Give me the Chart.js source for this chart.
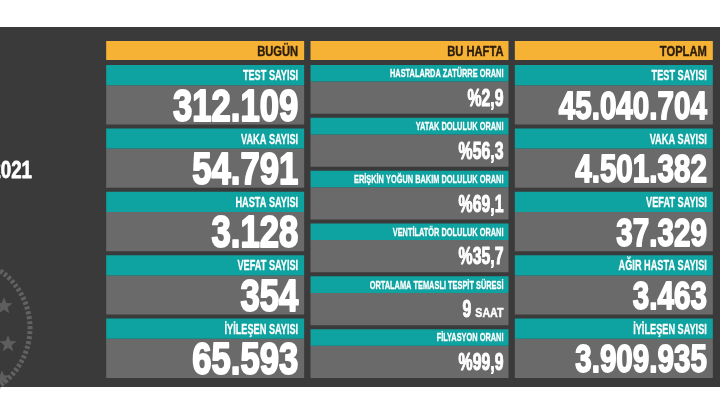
<!DOCTYPE html>
<html>
<head>
<meta charset="utf-8">
<script src="https://cdn.jsdelivr.net/npm/chart.js@4.4.1/dist/chart.umd.min.js"></script>
<style>
  html, body { margin: 0; padding: 0; background: #fff; }
  canvas { display: block; }
</style>
</head>
<body>
<canvas id="board" width="720" height="406"></canvas>
<script>
const columns = ["BUGÜN", "BU HAFTA", "TOPLAM"];

const todayLabels = ["TEST SAYISI", "VAKA SAYISI", "HASTA SAYISI", "VEFAT SAYISI", "İYİLEŞEN SAYISI"];
const todayValues = [312109, 54791, 3128, 354, 65593];

const weekLabels = [
  "HASTALARDA ZATÜRRE ORANI",
  "YATAK DOLULUK ORANI",
  "ERİŞKİN YOĞUN BAKIM DOLULUK ORANI",
  "VENTİLATÖR DOLULUK ORANI",
  "ORTALAMA TEMASLI TESPİT SÜRESİ",
  "FİLYASYON ORANI",
];
const weekValues = [2.9, 56.3, 69.1, 35.7, 9, 99.9];
const weekUnits = ["%", "%", "%", "%", "SAAT", "%"];

const totalLabels = ["TEST SAYISI", "VAKA SAYISI", "VEFAT SAYISI", "AĞIR HASTA SAYISI", "İYİLEŞEN SAYISI"];
const totalValues = [45040704, 4501382, 37329, 3463, 3909935];

const dateLabel = "2021";

// colours
const YELLOW = "#f6b234";
const TEAL = "#0ea3a0";
const GRAY = "#6a6a6a";
const PANEL = "#3a3a3a";
const FONT = '"Liberation Sans", Arial, sans-serif';

// table layout on a 0..1 (top..bottom) value axis
const HEAD_END = 19 / 337;
const BODY_START = 24 / 337;
const GAP = 4 / 337;
const STRIP = 0.34;

const rowLabels = [todayLabels, weekLabels, totalLabels];

function thousands(n) {
  return String(n).replace(/\B(?=(\d{3})+(?!\d))/g, ".");
}
function weekText(v, unit) {
  if (unit === "%") return "%" + v.toFixed(1).replace(".", ",");
  return String(v);
}
const rowValues = [
  todayValues.map(thousands),
  weekValues.map((v, i) => weekText(v, weekUnits[i])),
  totalValues.map(thousands),
];

function cellRange(ci, r) {
  const n = rowLabels[ci].length;
  if (r >= n) return null;
  const pitch = (1 - BODY_START + GAP) / n;
  const s = BODY_START + r * pitch;
  return [s, s + pitch - GAP];
}

const barStyle = { grouped: false, barPercentage: 0.969, categoryPercentage: 1, borderWidth: 0, borderSkipped: false };

const datasets = [
  Object.assign({ label: "header", kind: "header", data: columns.map(() => [0, HEAD_END]), backgroundColor: YELLOW }, barStyle),
];
const maxRows = Math.max(...rowLabels.map((l) => l.length));
for (let r = 0; r < maxRows; r++) {
  datasets.push(Object.assign({
    label: "strip" + r, kind: "strip", row: r,
    data: columns.map((c, ci) => {
      const rg = cellRange(ci, r);
      return rg ? [rg[0], rg[0] + (rg[1] - rg[0]) * STRIP] : null;
    }),
    backgroundColor: TEAL,
  }, barStyle));
  datasets.push(Object.assign({
    label: "body" + r, kind: "body", row: r,
    data: columns.map((c, ci) => {
      const rg = cellRange(ci, r);
      return rg ? [rg[0] + (rg[1] - rg[0]) * STRIP, rg[1]] : null;
    }),
    backgroundColor: GRAY,
  }, barStyle));
}

// text styles per column (sx = extra horizontal squeeze on top of the narrow fix)
const labelSize = [14, 11, 14];
const labelSx = [0.8, 0.82, 0.8];
const valueSize = [44, 23, 39];
const valueSx = [0.96, 0.84, 0.925];

// squeeze the regular bold face to a narrow one
let fontFix = 1;
function measureFix(ctx) {
  ctx.save();
  ctx.font = "bold 100px " + FONT;
  const w = ctx.measureText("0").width;
  ctx.restore();
  fontFix = Math.min(1, 45.6 / w);
}

function drawText(ctx, str, right, baseline, size, color, sx, heavy) {
  ctx.save();
  ctx.font = "bold " + size + "px " + FONT;
  ctx.fillStyle = color;
  ctx.strokeStyle = color;
  ctx.lineJoin = "round";
  ctx.textAlign = "right";
  ctx.textBaseline = "alphabetic";
  ctx.translate(right, baseline);
  ctx.scale(sx * fontFix, 1);
  ctx.fillText(str, 0, 0);
  if (heavy) {
    ctx.lineWidth = heavy;
    ctx.strokeText(str, 0, 0);
  }
  const w = ctx.measureText(str).width * sx * fontFix;
  ctx.restore();
  return w;
}

function star(ctx, cx, cy, r) {
  ctx.beginPath();
  for (let i = 0; i < 10; i++) {
    const a = -Math.PI / 2 + i * Math.PI / 5;
    const rr = i % 2 ? r * 0.42 : r;
    ctx.lineTo(cx + rr * Math.cos(a), cy + rr * Math.sin(a));
  }
  ctx.closePath();
  ctx.fill();
}

const backdrop = {
  id: "backdrop",
  beforeDraw(chart) {
    const ctx = chart.ctx;
    measureFix(ctx);
    ctx.save();
    ctx.fillStyle = "#ffffff";
    ctx.fillRect(0, 0, chart.width, chart.height);
    ctx.fillStyle = PANEL;
    ctx.fillRect(0, 27, chart.width, 360);
    // faint emblem on the left
    ctx.strokeStyle = "#626262";
    ctx.lineWidth = 5;
    ctx.setLineDash([3, 2]);
    ctx.beginPath();
    ctx.arc(-40, 328, 70, -1.1, 1.1);
    ctx.stroke();
    ctx.setLineDash([]);
    ctx.fillStyle = "#5e5e5e";
    star(ctx, 4, 306, 9);
    star(ctx, 8, 344, 9);
    star(ctx, 2, 378, 8);
    ctx.restore();
    drawText(ctx, dateLabel, 32, 178, 24, "#ffffff", 0.95, 0.8);
  },
};

const cellText = {
  id: "cellText",
  afterDatasetsDraw(chart) {
    const ctx = chart.ctx;
    chart.data.datasets.forEach((ds, di) => {
      const meta = chart.getDatasetMeta(di);
      meta.data.forEach((el, ci) => {
        if (ds.data[ci] == null) return;
        const top = Math.min(el.y, el.base);
        const bottom = Math.max(el.y, el.base);
        const right = el.x + el.width / 2 - (ci === 1 ? 5 : 6);
        const mid = (top + bottom) / 2;
        if (ds.kind === "header") {
          const size = 15;
          drawText(ctx, columns[ci], right, mid + size * 0.36, size, "#2b1d0d", 0.91, 0.4);
        } else if (ds.kind === "strip") {
          const size = labelSize[ci];
          drawText(ctx, rowLabels[ci][ds.row], right, mid + size * 0.36, size, "#ffffff", labelSx[ci], 0.3);
        } else {
          const size = valueSize[ci];
          const base = mid + size * 0.36;
          const heavy = size * 0.045;
          if (ci === 1 && weekUnits[ds.row] !== "%") {
            const w = drawText(ctx, weekUnits[ds.row], right, base, 13, "#ffffff", 1, 0.5);
            drawText(ctx, rowValues[ci][ds.row], right - w - 4, base, size, "#ffffff", valueSx[ci], heavy);
          } else {
            drawText(ctx, rowValues[ci][ds.row], right, base, size, "#ffffff", valueSx[ci], heavy);
          }
        }
      });
    });
  },
};

new Chart(document.getElementById("board"), {
  type: "bar",
  data: { labels: columns, datasets: datasets },
  options: {
    responsive: false,
    animation: false,
    layout: { padding: { left: 103, right: 4, top: 41, bottom: 28 } },
    scales: {
      x: { type: "category", display: false, offset: true },
      y: { display: false, min: 0, max: 1, reverse: true },
    },
    plugins: {
      legend: { display: false },
      tooltip: { enabled: false },
    },
  },
  plugins: [backdrop, cellText],
});
</script>
</body>
</html>
